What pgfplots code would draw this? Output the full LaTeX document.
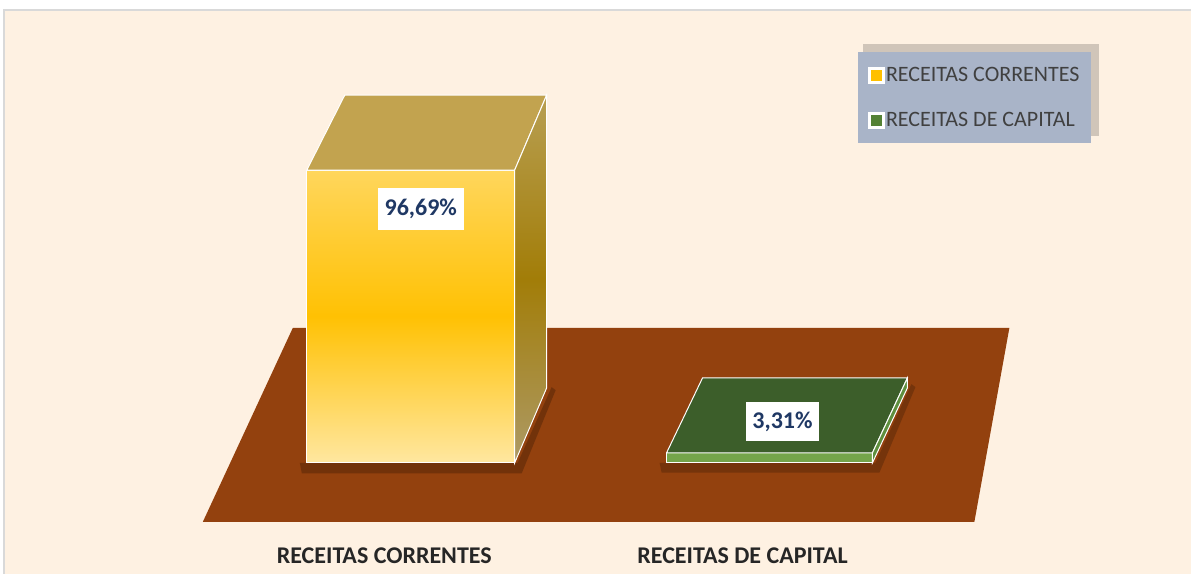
\documentclass[border=0pt]{standalone}
\usepackage{pgfplots}
\pgfplotsset{compat=1.18}
\usepackage{fontspec}
\setmainfont{Carlito}
\definecolor{cream}{HTML}{FEF1E2}
\definecolor{bordergray}{HTML}{D9D9D9}
\definecolor{floorbrown}{HTML}{93410E}
\definecolor{ytop}{HTML}{FFD65C}
\definecolor{ymid}{HTML}{FFC103}
\definecolor{ybot}{HTML}{FFE7A0}
\definecolor{ylid}{HTML}{C2A34F}
\definecolor{ysidetop}{HTML}{B89F52}
\definecolor{ysidemid}{HTML}{A27D08}
\definecolor{ysidebot}{HTML}{AD9A66}
\definecolor{gtop}{HTML}{3C5E2A}
\definecolor{gfront}{HTML}{74A54A}
\definecolor{gside}{HTML}{5E8F3E}
\definecolor{legbg}{HTML}{A9B4C8}
\definecolor{legtext}{HTML}{404040}
\definecolor{navy}{HTML}{1F3864}
\definecolor{legyellow}{HTML}{FFC000}
\definecolor{leggreen}{HTML}{548235}
\begin{document}
\begin{tikzpicture}
\begin{axis}[
  width=1192pt, height=574pt, scale only axis,
  xmin=0, xmax=1192, ymin=-36.63, ymax=152.81,
  axis line style={draw=none},
  axis on top,
  ytick=\empty,
  xtick={384.5,743},
  xticklabels={RECEITAS CORRENTES,RECEITAS DE CAPITAL},
  major tick length=0pt,
  xticklabel style={font=\fontsize{24}{28}\selectfont\bfseries, text=black!85, yshift=30pt},
  clip=false,
  legend style={at={(axis cs:858,135.64)}, anchor=north west,
    fill=legbg, draw=none,
    font=\fontsize{22}{26}\selectfont, text=legtext,
    inner xsep=10pt, inner ysep=13pt, row sep=25pt},
  legend cell align=left,
]
% background
\fill[white] (axis cs:0,-36.63) rectangle (axis cs:1192,152.81);
\fill[cream] (axis cs:4,-36.63) rectangle (axis cs:1192,149.5);
\draw[bordergray, line width=1.5pt] (axis cs:4,-36.63) -- (axis cs:4,149.5) -- (axis cs:1192,149.5);
% legend shadow
\fill[black, opacity=0.18] (axis cs:864,138.3) rectangle (axis cs:1100,107.9);
% floor
\addplot[fill=floorbrown, draw=none, forget plot] coordinates {(293,44.55) (1010,44.55) (975,-19.47) (203,-19.47) (293,44.55)};
% shadows
\fill[black, opacity=0.22] (axis cs:300,0) -- (axis cs:518,0) -- (axis cs:552,25) -- (axis cs:556,24) -- (axis cs:522,-3.5) -- (axis cs:302,-3.5) -- cycle;
\fill[black, opacity=0.2] (axis cs:660,0) -- (axis cs:876,0) -- (axis cs:912,26) -- (axis cs:916,25) -- (axis cs:880,-3.2) -- (axis cs:662,-3.2) -- cycle;

% RECEITAS CORRENTES bar
\addplot[ybar, bar width=208, draw=white, line width=1pt, top color=ytop, bottom color=ybot, middle color=ymid, forget plot] coordinates {(411,96.69)};
\addplot[fill=ylid, draw=white, line width=1pt, forget plot] coordinates {(307,96.69) (345,121.44) (547,121.44) (515,96.69) (307,96.69)};
\addplot[draw=white, line width=1pt, top color=ysidetop, bottom color=ysidebot, middle color=ysidemid, forget plot] coordinates {(515,96.69) (547,121.44) (547,24.75) (515,0) (515,96.69)};

% RECEITAS DE CAPITAL bar
\addplot[ybar, bar width=206, draw=white, line width=1pt, fill=gfront, forget plot] coordinates {(770,3.31)};
\addplot[fill=gtop, draw=white, line width=1pt, forget plot] coordinates {(667,3.31) (703,28.06) (908,28.06) (873,3.31) (667,3.31)};
\addplot[fill=gside, draw=white, line width=1pt, forget plot] coordinates {(873,3.31) (908,28.06) (908,24.75) (873,0) (873,3.31)};

% value labels
\node[fill=white, inner sep=0pt, minimum width=86pt, minimum height=42pt, font=\fontsize{24}{28}\selectfont\bfseries, text=navy] at (axis cs:421,83.8) {96,69\%};
\node[fill=white, inner sep=0pt, minimum width=74pt, minimum height=39pt, font=\fontsize{24}{28}\selectfont\bfseries, text=navy] at (axis cs:783,13.5) {3,31\%};

% legend
\addlegendimage{legend image code/.code={\fill[white] (0pt,-8pt) rectangle (16pt,8pt); \fill[legyellow] (3pt,-5pt) rectangle (13pt,5pt);}}
\addlegendentry{RECEITAS CORRENTES}
\addlegendimage{legend image code/.code={\fill[white] (0pt,-8pt) rectangle (16pt,8pt); \fill[leggreen] (3pt,-5pt) rectangle (13pt,5pt);}}
\addlegendentry{RECEITAS DE CAPITAL}
\end{axis}
\end{tikzpicture}
\end{document}
